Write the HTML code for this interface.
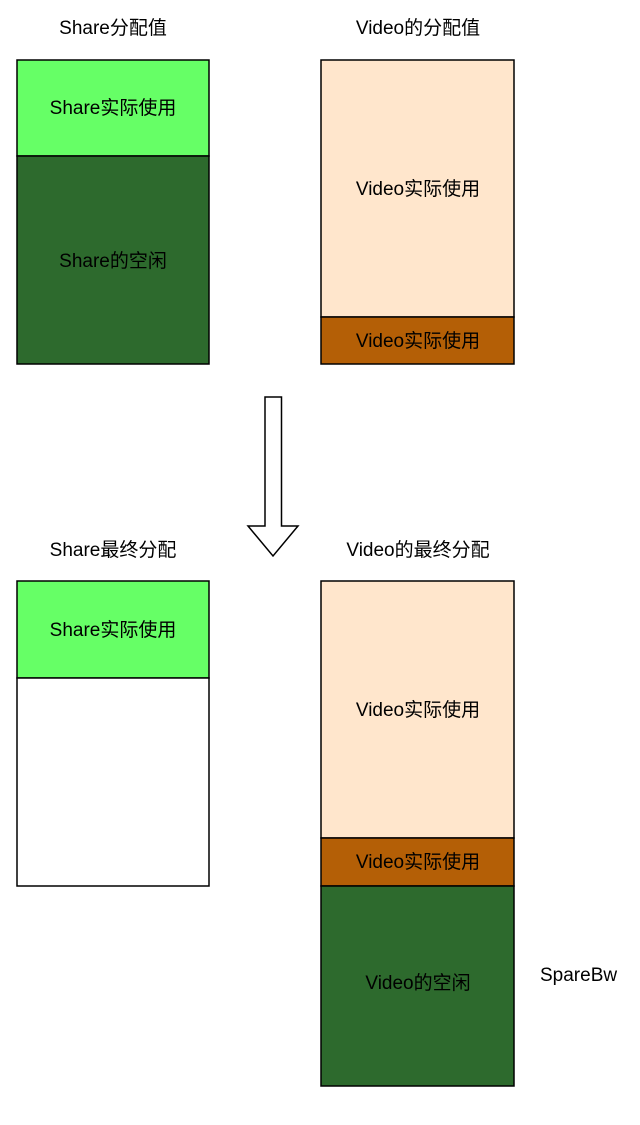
<!DOCTYPE html>
<html><head><meta charset="utf-8"><style>
html,body{margin:0;padding:0;background:#fff;}
text{font-family:"Liberation Sans","Noto Sans CJK SC",sans-serif;font-size:19px;fill:#000;}
</style></head><body>
<svg width="640" height="1120" xmlns="http://www.w3.org/2000/svg">
<g stroke="#000" stroke-width="1.5">
<rect x="17" y="60" width="192" height="96" fill="#66ff66"/>
<rect x="17" y="156" width="192" height="208" fill="#2d6a2d"/>
<rect x="321" y="60" width="193" height="257" fill="#ffe6cc"/>
<rect x="321" y="317" width="193" height="47" fill="#b45f06"/>
<rect x="17" y="581" width="192" height="97" fill="#66ff66"/>
<rect x="17" y="678" width="192" height="208" fill="#fff"/>
<rect x="321" y="581" width="193" height="257" fill="#ffe6cc"/>
<rect x="321" y="838" width="193" height="48" fill="#b45f06"/>
<rect x="321" y="886" width="193" height="200" fill="#2d6a2d"/>
<polygon points="265,397 281.5,397 281.5,526 298,526 273,556 248,526 265,526" fill="#fff"/>
</g>
<g text-anchor="middle">
<text x="113" y="34">Share分配值</text>
<text x="418" y="34">Video的分配值</text>
<text x="113" y="114">Share实际使用</text>
<text x="113" y="267">Share的空闲</text>
<text x="418" y="195">Video实际使用</text>
<text x="418" y="347">Video实际使用</text>
<text x="113" y="556">Share最终分配</text>
<text x="418" y="556">Video的最终分配</text>
<text x="113" y="636">Share实际使用</text>
<text x="418" y="716">Video实际使用</text>
<text x="418" y="868">Video实际使用</text>
<text x="418" y="989">Video的空闲</text>
</g>
<text x="540" y="981">SpareBw</text>
</svg>
</body></html>
